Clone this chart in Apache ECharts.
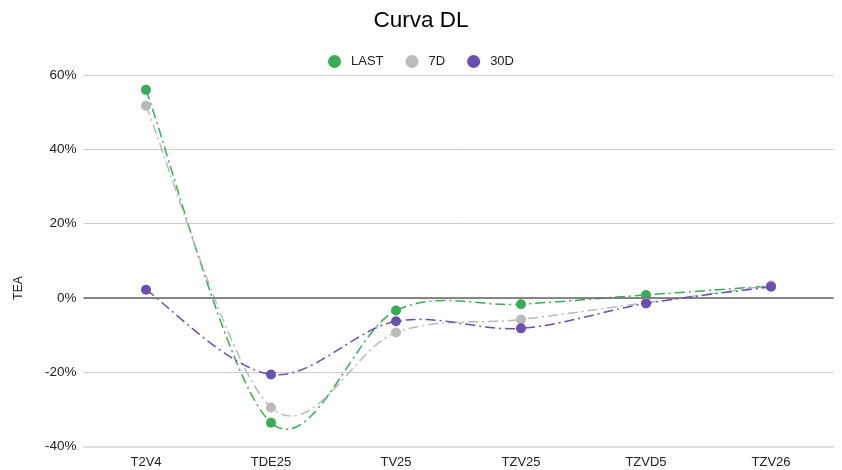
<!DOCTYPE html>
<html>
<head>
<meta charset="utf-8">
<script src="https://cdn.jsdelivr.net/npm/echarts@6/dist/echarts.min.js"></script>
<style>html,body{margin:0;padding:0;background:#fff}#c{width:842px;height:470px}</style>
</head>
<body>
<div id="c"></div>
<script>
const categories = ['T2V4', 'TDE25', 'TV25', 'TZV25', 'TZVD5', 'TZV26'];
const last = [56.0, -33.6, -3.4, -1.7, 0.8, 3.2];
const d7 = [51.7, -29.5, -9.3, -5.8, -1.3, 3.4];
const d30 = [2.2, -20.6, -6.3, -8.2, -1.5, 3.0];
const seriesNames = ['LAST', '7D', '30D'];
const colors = ['#3aac55', '#bababa', '#6a50ae'];
const yTicks = [-40, -20, 0, 20, 40, 60];

const chart = echarts.init(document.getElementById('c'), null, {renderer: 'canvas'});
const font = 'Arial, "Liberation Sans", sans-serif';
const dash = [10, 4, 2, 4];

// smooth (Catmull-Rom) curve drawn through the library's coordinate system
function curve(name, data, color, z) {
  return {
    name: name + '_curve', type: 'custom', coordinateSystem: 'cartesian2d',
    data: data.map((v, i) => [i, v]), z: z, silent: true,
    renderItem: function (params, api) {
      if (params.dataIndex !== 0) return null;
      const p = data.map((v, i) => api.coord([i, v]));
      const n = p.length;
      let d = 'M' + p[0][0] + ' ' + p[0][1];
      for (let i = 0; i < n - 1; i++) {
        const p0 = p[Math.max(i - 1, 0)], p1 = p[i], p2 = p[i + 1], p3 = p[Math.min(i + 2, n - 1)];
        const c1x = p1[0] + (p2[0] - p0[0]) / 6, c1y = p1[1] + (p2[1] - p0[1]) / 6;
        const c2x = p2[0] - (p3[0] - p1[0]) / 6, c2y = p2[1] - (p3[1] - p1[1]) / 6;
        d += ' C' + c1x + ' ' + c1y + ' ' + c2x + ' ' + c2y + ' ' + p2[0] + ' ' + p2[1];
      }
      return {
        type: 'path', shape: {pathData: d},
        style: {fill: 'none', stroke: color, lineWidth: 1.5, lineDash: dash}
      };
    }
  };
}
function pts(name, data, color, z, extra) {
  return Object.assign({
    name: name, type: 'line', data: data, z: z,
    symbol: 'circle', symbolSize: 10, showSymbol: true,
    itemStyle: {color: color},
    lineStyle: {color: color, opacity: 0},
    emphasis: {disabled: true}
  }, extra || {});
}
chart.setOption({
  animation: false,
  backgroundColor: '#fff',
  title: {text: 'Curva DL', left: 'center', top: 4,
    textStyle: {fontFamily: font, fontSize: 22.5, fontWeight: 'normal', color: '#000'}},
  legend: {data: seriesNames, top: 50, left: 'center', itemWidth: 13, itemHeight: 13, itemGap: 22,
    icon: 'circle', textStyle: {fontFamily: font, fontSize: 13, color: '#222', padding: [0, 0, 0, 5]}},
  grid: {left: 83.5, right: 8.5, top: 75, bottom: 23.5},
  xAxis: {type: 'category', data: categories, boundaryGap: true,
    axisLine: {show: false}, axisTick: {show: false},
    axisLabel: {fontFamily: font, fontSize: 13, color: '#222', margin: 9}},
  yAxis: {type: 'value', min: yTicks[0], max: yTicks[yTicks.length - 1], interval: 20,
    axisLine: {show: false}, axisTick: {show: false},
    axisLabel: {formatter: '{value}%', fontFamily: font, fontSize: 13.5, color: '#222', margin: 7},
    splitLine: {lineStyle: {color: '#cccccc', width: 1}}},
  graphic: [{type: 'text', x: 19, y: 288, rotation: Math.PI / 2,
    style: {text: 'TEA', font: '12px ' + font, fill: '#222', align: 'center', verticalAlign: 'middle'}}],
  series: [
    pts('zero', [], '#666', 1, {
      markLine: {silent: true, symbol: 'none', label: {show: false}, animation: false,
        data: [
          {yAxis: 0, lineStyle: {color: '#666', width: 1.5, type: 'solid'}},
          {yAxis: yTicks[0], lineStyle: {color: '#dddddd', width: 2, type: 'solid'}}
        ]}}),
    curve(seriesNames[0], last, colors[0], 2),
    pts(seriesNames[0], last, colors[0], 3),
    curve(seriesNames[1], d7, colors[1], 4),
    pts(seriesNames[1], d7, colors[1], 5),
    curve(seriesNames[2], d30, colors[2], 6),
    pts(seriesNames[2], d30, colors[2], 7)
  ]
});
</script>
</body>
</html>
